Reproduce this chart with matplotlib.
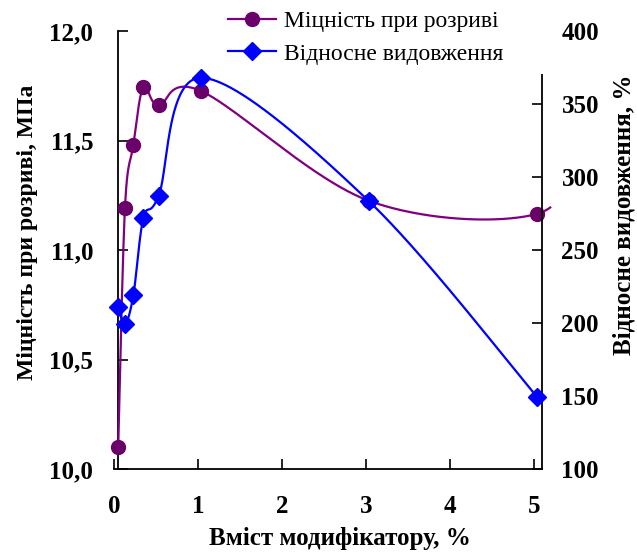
import numpy as np
import matplotlib
matplotlib.use("Agg")
import matplotlib.pyplot as plt
from matplotlib.patches import Rectangle
from matplotlib.ticker import FuncFormatter, FixedLocator

# Modifier content, %
modifier = [0.05, 0.13, 0.23, 0.35, 0.53, 1.04, 3.03, 5.03]
# Tensile strength, MPa
strength = [10.10, 11.19, 11.48, 11.745, 11.66, 11.725, 11.225, 11.165]
# Next strength point lies past the axis end; its line runs out of the plot
strength_next_x = 5.6
strength_next_y = 11.5
line_end_x = 5.2
# Relative elongation, %
elongation = [211, 199, 219, 272, 287, 368, 283.5, 149.5]

x_ticks = [0, 1, 2, 3, 4, 5]
left_ticks = [10.0, 10.5, 11.0, 11.5, 12.0]
right_ticks = [100, 150, 200, 250, 300, 350, 400]

PURPLE_LINE = "#800080"
PURPLE_MARK = "#6b006b"
BLUE = "#0000ff"


def smooth(xs, ys, n=80):
    """Bezier smoothing through the points (Catmull-Rom style control points)."""
    p = np.column_stack([xs, ys]).astype(float)
    m = len(p)
    out = []
    for i in range(m - 1):
        p0 = p[i - 1] if i > 0 else p[i]
        p1 = p[i]
        p2 = p[i + 1]
        p3 = p[i + 2] if i + 2 < m else p[i + 1]
        c1 = p1 + (p2 - p0) / 6.0
        c2 = p2 - (p3 - p1) / 6.0
        t = np.linspace(0, 1, n)[:, None]
        seg = ((1 - t) ** 3) * p1 + 3 * ((1 - t) ** 2) * t * c1 + 3 * (1 - t) * t ** 2 * c2 + t ** 3 * p2
        out.append(seg if i == 0 else seg[1:])
    c = np.vstack(out)
    return c[:, 0], c[:, 1]


plt.rcParams["font.family"] = ["Liberation Serif", "DejaVu Serif"]

fig = plt.figure(figsize=(6.37, 5.54), dpi=100)
W, H = 637, 554
ax1 = fig.add_axes([114 / W, 1 - 469 / H, (542 - 114) / W, (469 - 31) / H])
ax2 = ax1.twinx()

# strength curve
sx, sy = smooth(modifier + [strength_next_x], strength + [strength_next_y])
keep = sx <= line_end_x
ax1.plot(sx[keep], sy[keep], color=PURPLE_LINE, lw=1.6, clip_on=False, zorder=3)
ax1.plot(modifier, strength, ls="none", marker="o", ms=10, color=PURPLE_MARK,
         mec=PURPLE_MARK, clip_on=False, zorder=4)

# elongation curve
ex, ey = smooth(modifier, elongation)
ax2.plot(ex, ey, color=BLUE, lw=1.6, clip_on=False, zorder=3)
ax2.plot(modifier, elongation, ls="none", marker="D", ms=9, color=BLUE,
         mec=BLUE, clip_on=False, zorder=4)

ax1.set_xlim(0, 5.09)
ax1.set_ylim(10.0, 12.0)
ax2.set_ylim(100, 400)

for ax in (ax1, ax2):
    ax.spines["top"].set_visible(False)
    ax.patch.set_visible(False)
ax1.spines["right"].set_visible(False)
ax2.spines["left"].set_visible(False)
ax2.spines["bottom"].set_visible(False)
ax1.spines["left"].set_position(("data", 0.05))
for s in ("left", "bottom"):
    ax1.spines[s].set_linewidth(1.3)
ax2.spines["right"].set_linewidth(1.3)

ax1.xaxis.set_major_locator(FixedLocator(x_ticks))
ax1.yaxis.set_major_locator(FixedLocator(left_ticks))
ax2.yaxis.set_major_locator(FixedLocator(right_ticks))
ax1.xaxis.set_major_formatter(FuncFormatter(lambda v, p: f"{v:.0f}"))
ax1.yaxis.set_major_formatter(FuncFormatter(lambda v, p: f"{v:.1f}".replace(".", ",")))
ax2.yaxis.set_major_formatter(FuncFormatter(lambda v, p: f"{v:.0f}"))

tick_font = dict(labelsize=18)
ax1.tick_params(axis="x", direction="in", length=7, width=1.2, pad=19, **tick_font)
ax1.tick_params(axis="y", direction="in", length=7, width=1.2, pad=18, **tick_font)
ax2.tick_params(axis="y", direction="in", length=7, width=1.2, pad=14, **tick_font)
for lab in ax1.get_xticklabels() + ax1.get_yticklabels() + ax2.get_yticklabels():
    lab.set_fontweight("bold")

fig.text(28 / W, 1 - 232 / H, "Міцність при розриві, МПа", rotation=90,
         ha="center", va="center", fontsize=17, fontweight="bold")
fig.text(624 / W, 1 - 215 / H, "Відносне видовження, %", rotation=90,
         ha="center", va="center", fontsize=18, fontweight="bold")
fig.text(340 / W, 1 - 538 / H, "Вміст модифікатору, %",
         ha="center", va="center", fontsize=18, fontweight="bold")

# white backing behind the legend
fig.patches.append(Rectangle((225 / W, 1 - 74 / H), (546 - 225) / W, 74 / H,
                             transform=fig.transFigure, facecolor="white",
                             edgecolor="none", zorder=1))

h1 = plt.Line2D([], [], color=PURPLE_LINE, lw=1.6, marker="o", ms=10,
                mfc=PURPLE_MARK, mec=PURPLE_MARK)
h2 = plt.Line2D([], [], color=BLUE, lw=1.6, marker="D", ms=9, mfc=BLUE, mec=BLUE)
fig.legend([h1, h2], ["Міцність при розриві", "Відносне видовження"],
           loc="upper left", bbox_to_anchor=(226 / W, 1 - 8 / H),
           frameon=False, fontsize=17, handlelength=2.0, handletextpad=0.35,
           labelspacing=0.47, borderpad=0.1, borderaxespad=0)

fig.savefig("out.png", dpi=100)
